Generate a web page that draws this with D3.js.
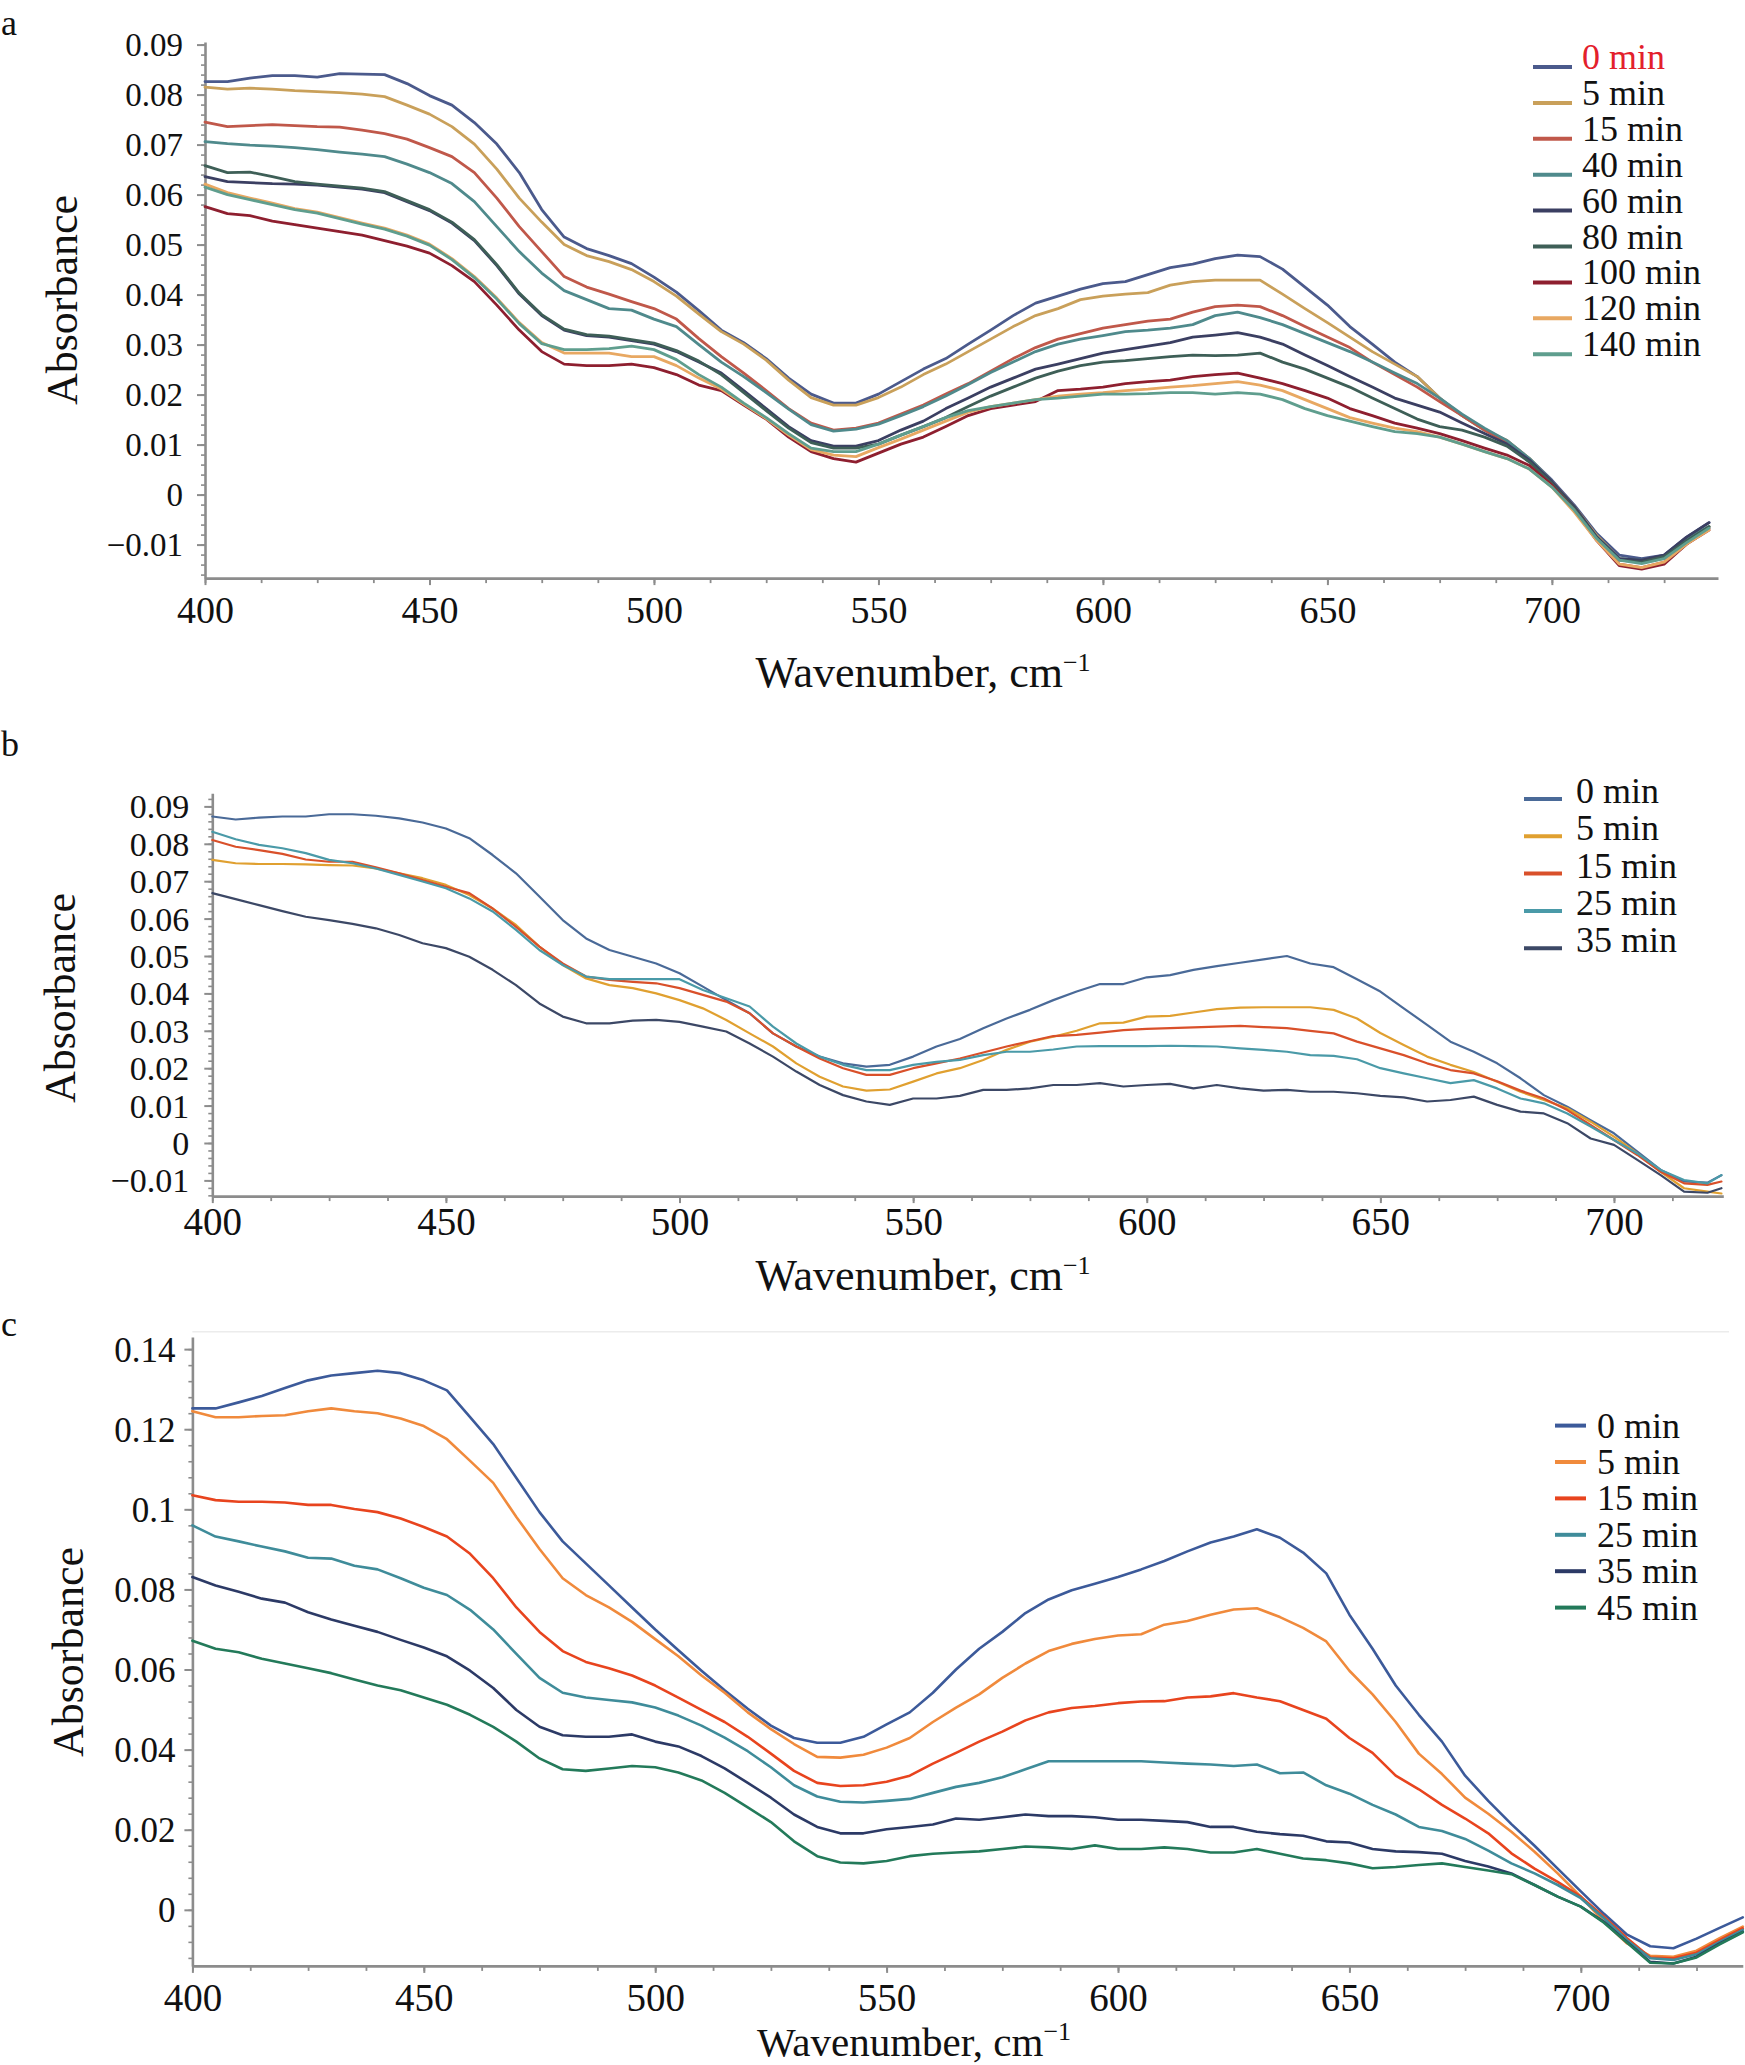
<!DOCTYPE html>
<html>
<head>
<meta charset="utf-8">
<script src="https://cdn.jsdelivr.net/npm/d3@7"></script>
<style>
  html, body { margin: 0; padding: 0; background: #ffffff; }
  svg { display: block; }
  text { font-family: "Liberation Serif", "Times New Roman", serif; fill: #111; }
</style>
</head>
<body>
<svg id="chart" width="1745" height="2065"></svg>
<script>
// ---------------- DATA ----------------
// Panel a
const waveA = [400,405,410,415,420,425,430,435,440,445,450,455,460,465,470,475,480,485,490,495,500,505,510,515,520,525,530,535,540,545,550,555,560,565,570,575,580,585,590,595,600,605,610,615,620,625,630,635,640,645,650,655,660,665,670,675,680,685,690,695,700,705,710,715,720,725,730,735];
const namesA = ["0 min","5 min","15 min","40 min","60 min","80 min","100 min","120 min","140 min"];
const colorsA = ["#4b5a8c","#c9a05a","#c0584a","#4f8a8c","#3b3f62","#3e5f57","#8e1f2f","#e8a862","#5f9e8e"];
const a0 = [.0826,.0826,.0833,.0838,.0838,.0835,.0842,.0841,.0840,.0822,
  .0798,.0779,.0744,.0701,.0644,.0570,.0515,.0492,.0478,.0462,
  .0435,.0405,.0368,.0329,.0304,.0272,.0233,.0201,.0183,.0183,
  .0201,.0226,.0251,.0272,.0301,.0329,.0358,.0383,.0397,.0411,
  .0422,.0426,.0440,.0454,.0461,.0472,.0479,.0476,.0451,.0415,
  .0379,.0336,.0301,.0265,.0236,.0193,.0158,.0129,.0108,.0072,
  .0029,-.0021,-.0078,-.0121,-.0128,-.0121,-.0085,-.0056];
const a5 = [.0815,.0811,.0813,.0811,.0808,.0806,.0804,.0801,.0796,.0779,
  .0761,.0736,.0701,.0651,.0593,.0545,.0500,.0478,.0466,.0450,
  .0426,.0397,.0361,.0326,.0301,.0269,.0229,.0194,.0179,.0179,
  .0194,.0215,.0240,.0261,.0286,.0311,.0336,.0358,.0372,.0390,
  .0397,.0401,.0404,.0419,.0426,.0429,.0429,.0429,.0401,.0372,
  .0344,.0315,.0286,.0261,.0236,.0193,.0158,.0129,.0108,.0072,
  .0026,-.0024,-.0082,-.0128,-.0135,-.0128,-.0092,-.0064];
const a15 = [.0745,.0736,.0738,.0740,.0738,.0736,.0735,.0729,.0722,.0711,
  .0694,.0676,.0644,.0593,.0536,.0486,.0436,.0415,.0401,.0386,
  .0372,.0351,.0312,.0276,.0243,.0208,.0172,.0143,.0129,.0133,
  .0143,.0161,.0179,.0201,.0222,.0247,.0272,.0294,.0311,.0322,
  .0333,.0340,.0347,.0351,.0365,.0376,.0379,.0376,.0358,.0336,
  .0315,.0294,.0265,.0240,.0215,.0186,.0158,.0129,.0104,.0069,
  .0022,-.0031,-.0085,-.0139,-.0146,-.0135,-.0099,-.0067];
const a40 = [.0706,.0702,.0699,.0697,.0694,.0690,.0685,.0681,.0676,.0661,
  .0644,.0622,.0586,.0536,.0486,.0443,.0408,.0390,.0372,.0369,
  .0351,.0336,.0300,.0265,.0236,.0204,.0171,.0140,.0127,.0131,
  .0141,.0158,.0176,.0197,.0220,.0244,.0265,.0286,.0301,.0311,
  .0318,.0326,.0329,.0333,.0340,.0358,.0365,.0354,.0340,.0322,
  .0304,.0286,.0265,.0243,.0222,.0193,.0161,.0133,.0108,.0072,
  .0026,-.0028,-.0085,-.0128,-.0131,-.0124,-.0088,-.0064];
const a60 = [.0636,.0626,.0624,.0622,.0621,.0619,.0615,.0611,.0604,.0586,
  .0568,.0543,.0508,.0458,.0401,.0358,.0329,.0318,.0315,.0308,
  .0301,.0286,.0265,.0243,.0208,.0172,.0136,.0108,.0097,.0097,
  .0108,.0129,.0147,.0172,.0193,.0215,.0233,.0251,.0261,.0272,
  .0283,.0290,.0297,.0304,.0315,.0319,.0324,.0315,.0301,.0279,
  .0258,.0236,.0215,.0193,.0179,.0165,.0143,.0122,.0101,.0069,
  .0026,-.0024,-.0085,-.0128,-.0131,-.0121,-.0085,-.0056];
const a80 = [.0658,.0644,.0645,.0636,.0626,.0621,.0617,.0613,.0606,.0588,
  .0570,.0545,.0510,.0460,.0403,.0360,.0331,.0320,.0317,.0310,
  .0303,.0288,.0267,.0240,.0204,.0168,.0133,.0104,.0093,.0093,
  .0101,.0119,.0136,.0154,.0176,.0197,.0215,.0233,.0247,.0258,
  .0265,.0268,.0272,.0276,.0279,.0278,.0279,.0283,.0265,.0251,
  .0233,.0215,.0193,.0172,.0151,.0136,.0129,.0115,.0097,.0065,
  .0022,-.0028,-.0088,-.0131,-.0135,-.0124,-.0092,-.0064];
const a100 = [.0576,.0562,.0558,.0547,.0540,.0533,.0526,.0519,.0508,.0497,
  .0483,.0458,.0426,.0379,.0329,.0286,.0261,.0258,.0258,.0261,
  .0254,.0240,.0219,.0208,.0179,.0151,.0115,.0086,.0072,.0065,
  .0083,.0101,.0115,.0136,.0158,.0172,.0179,.0186,.0208,.0211,
  .0215,.0222,.0226,.0229,.0236,.0240,.0243,.0233,.0222,.0208,
  .0193,.0172,.0158,.0143,.0133,.0122,.0108,.0093,.0079,.0058,
  .0019,-.0031,-.0092,-.0142,-.0149,-.0139,-.0099,-.0071];
const a120 = [.0621,.0604,.0593,.0583,.0572,.0565,.0554,.0543,.0533,.0519,
  .0501,.0472,.0436,.0393,.0344,.0304,.0283,.0283,.0283,.0276,
  .0276,.0258,.0233,.0211,.0181,.0152,.0119,.0090,.0079,.0076,
  .0094,.0111,.0129,.0147,.0165,.0176,.0183,.0190,.0197,.0201,
  .0204,.0208,.0211,.0215,.0218,.0222,.0226,.0219,.0208,.0190,
  .0172,.0154,.0143,.0133,.0126,.0115,.0101,.0086,.0072,.0051,
  .0015,-.0035,-.0092,-.0139,-.0146,-.0135,-.0099,-.0071];
const a140 = [.0615,.0600,.0590,.0580,.0570,.0563,.0552,.0541,.0531,.0517,
  .0499,.0470,.0434,.0391,.0342,.0302,.0290,.0290,.0292,.0297,
  .0290,.0270,.0240,.0215,.0183,.0154,.0122,.0093,.0086,.0086,
  .0101,.0119,.0136,.0154,.0168,.0176,.0183,.0190,.0193,.0197,
  .0201,.0201,.0202,.0204,.0204,.0201,.0204,.0201,.0190,.0172,
  .0158,.0147,.0136,.0126,.0122,.0115,.0101,.0086,.0072,.0051,
  .0015,-.0031,-.0088,-.0131,-.0138,-.0128,-.0096,-.0067];
const yTicksA = [-0.01,0,0.01,0.02,0.03,0.04,0.05,0.06,0.07,0.08,0.09];
const xTicksA = [400,450,500,550,600,650,700];

// Panel b
const waveB = [400,405,410,415,420,425,430,435,440,445,450,455,460,465,470,475,480,485,490,495,500,505,510,515,520,525,530,535,540,545,550,555,560,565,570,575,580,585,590,595,600,605,610,615,620,625,630,635,640,645,650,655,660,665,670,675,680,685,690,695,700,705,710,715,720,723];
const namesB = ["0 min","5 min","15 min","25 min","35 min"];
const colorsB = ["#4a6a98","#e0a030","#d9502a","#4a9aa8","#3c4866"];
const b0 = [.0873,.0865,.0870,.0873,.0873,.0879,.0879,.0875,.0868,.0857,
  .0841,.0815,.0770,.0721,.0659,.0596,.0547,.0516,.0498,.0480,
  .0454,.0418,.0382,.0347,.0293,.0258,.0231,.0213,.0204,.0209,
  .0231,.0258,.0278,.0307,.0333,.0356,.0382,.0405,.0425,.0425,
  .0443,.0449,.0463,.0473,.0482,.0491,.0500,.0480,.0470,.0438,
  .0405,.0360,.0316,.0271,.0244,.0213,.0173,.0128,.0097,.0061,
  .0026,-.0023,-.0072,-.0103,-.0106,-.0086];
const b5 = [.0757,.0748,.0746,.0746,.0745,.0743,.0742,.0734,.0721,.0708,
  .0690,.0663,.0627,.0583,.0525,.0476,.0440,.0422,.0414,.0400,
  .0382,.0360,.0329,.0293,.0258,.0213,.0177,.0151,.0140,.0143,
  .0164,.0186,.0200,.0222,.0249,.0271,.0284,.0300,.0320,.0322,
  .0338,.0340,.0349,.0358,.0362,.0363,.0363,.0363,.0356,.0333,
  .0294,.0262,.0231,.0209,.0190,.0164,.0137,.0115,.0093,.0057,
  .0017,-.0028,-.0077,-.0121,-.0130,-.0135];
const b15 = [.0810,.0792,.0783,.0773,.0758,.0752,.0752,.0737,.0721,.0703,
  .0685,.0668,.0627,.0578,.0525,.0480,.0445,.0436,.0431,.0427,
  .0414,.0396,.0378,.0347,.0293,.0258,.0226,.0200,.0182,.0182,
  .0200,.0213,.0226,.0242,.0258,.0272,.0286,.0289,.0295,.0302,
  .0305,.0307,.0309,.0311,.0313,.0310,.0307,.0300,.0293,.0271,
  .0253,.0235,.0213,.0195,.0186,.0165,.0140,.0119,.0088,.0048,
  .0008,-.0032,-.0077,-.0108,-.0112,-.0103];
const b25 = [.0832,.0812,.0797,.0788,.0775,.0757,.0748,.0734,.0717,.0699,
  .0681,.0654,.0619,.0570,.0516,.0476,.0445,.0438,.0438,.0438,
  .0438,.0409,.0387,.0365,.0311,.0266,.0231,.0209,.0195,.0195,
  .0209,.0217,.0222,.0235,.0244,.0244,.0250,.0258,.0259,.0259,
  .0259,.0260,.0259,.0258,.0253,.0249,.0244,.0235,.0233,.0224,
  .0200,.0186,.0173,.0160,.0168,.0146,.0119,.0106,.0079,.0044,
  .0008,-.0028,-.0072,-.0099,-.0108,-.0086];
const b35 = [.0668,.0652,.0636,.0620,.0605,.0596,.0586,.0574,.0556,.0534,
  .0521,.0498,.0463,.0422,.0373,.0338,.0320,.0320,.0327,.0329,
  .0324,.0311,.0298,.0266,.0231,.0191,.0155,.0128,.0111,.0102,
  .0119,.0119,.0126,.0142,.0142,.0146,.0155,.0155,.0160,.0151,
  .0155,.0158,.0146,.0155,.0146,.0140,.0142,.0137,.0137,.0133,
  .0126,.0122,.0111,.0115,.0124,.0102,.0084,.0079,.0053,.0012,
  -.0005,-.0045,-.0086,-.0130,-.0133,-.0121];
const yTicksB = [-0.01,0,0.01,0.02,0.03,0.04,0.05,0.06,0.07,0.08,0.09];
const xTicksB = [400,450,500,550,600,650,700];

// Panel c
const waveC = [400,405,410,415,420,425,430,435,440,445,450,455,460,465,470,475,480,485,490,495,500,505,510,515,520,525,530,535,540,545,550,555,560,565,570,575,580,585,590,595,600,605,610,615,620,625,630,635,640,645,650,655,660,665,670,675,680,685,690,695,700,705,710,715,720,725,730,735];
const namesC = ["0 min","5 min","15 min","25 min","35 min","45 min"];
const colorsC = ["#3c5a9a","#f08a3c","#e8441e","#3f8c9a","#2c3a66","#237a5a"];
const c0 = [.1252,.1252,.1267,.1283,.1303,.1322,.1334,.1340,.1346,.1340,
  .1322,.1297,.1230,.1163,.1078,.0993,.0920,.0865,.0810,.0755,
  .0700,.0648,.0597,.0548,.0502,.0460,.0429,.0417,.0417,.0432,
  .0463,.0493,.0542,.0600,.0652,.0694,.0741,.0775,.0798,.0814,
  .0831,.0850,.0871,.0895,.0917,.0932,.0950,.0929,.0892,.0840,
  .0737,.0652,.0560,.0487,.0420,.0335,.0272,.0214,.0160,.0103,
  .0046,-.0010,-.0062,-.0091,-.0096,-.0072,-.0045,-.0019];
const c5 = [.1245,.1230,.1230,.1233,.1235,.1245,.1252,.1245,.1240,.1227,
  .1208,.1175,.1121,.1066,.0981,.0901,.0828,.0786,.0755,.0719,
  .0676,.0633,.0585,.0542,.0493,.0451,.0414,.0382,.0380,.0387,
  .0405,.0429,.0469,.0505,.0538,.0579,.0615,.0646,.0664,.0676,
  .0685,.0688,.0712,.0721,.0737,.0750,.0753,.0731,.0704,.0670,
  .0597,.0538,.0469,.0390,.0339,.0280,.0240,.0195,.0145,.0091,
  .0033,-.0030,-.0084,-.0115,-.0117,-.0102,-.0071,-.0042];
const c15 = [.1035,.1023,.1019,.1019,.1017,.1011,.1011,.1001,.0993,.0977,
  .0956,.0932,.0889,.0828,.0755,.0694,.0646,.0619,.0603,.0585,
  .0560,.0530,.0499,.0469,.0432,.0390,.0347,.0317,.0309,.0311,
  .0320,.0335,.0365,.0392,.0420,.0445,.0473,.0493,.0504,.0509,
  .0516,.0520,.0521,.0530,.0533,.0541,.0530,.0521,.0499,.0477,
  .0429,.0392,.0335,.0301,.0262,.0228,.0191,.0141,.0103,.0070,
  .0033,-.0017,-.0071,-.0119,-.0121,-.0107,-.0076,-.0046];
const c25 = [.0960,.0932,.0920,.0907,.0895,.0879,.0877,.0859,.0850,.0828,
  .0804,.0786,.0749,.0700,.0639,.0579,.0542,.0530,.0524,.0518,
  .0505,.0485,.0460,.0430,.0396,.0356,.0311,.0283,.0270,.0268,
  .0272,.0277,.0292,.0307,.0317,.0331,.0351,.0371,.0371,.0371,
  .0371,.0371,.0368,.0365,.0363,.0359,.0363,.0341,.0343,.0311,
  .0290,.0262,.0238,.0207,.0197,.0177,.0148,.0116,.0091,.0062,
  .0029,-.0021,-.0076,-.0121,-.0125,-.0111,-.0080,-.0050];
const c35 = [.0831,.0810,.0794,.0777,.0767,.0743,.0725,.0709,.0694,.0674,
  .0655,.0633,.0597,.0554,.0499,.0457,.0436,.0432,.0432,.0438,
  .0420,.0408,.0384,.0353,.0317,.0280,.0238,.0207,.0191,.0191,
  .0201,.0207,.0213,.0228,.0225,.0231,.0238,.0234,.0234,.0231,
  .0225,.0225,.0222,.0219,.0207,.0207,.0195,.0189,.0185,.0171,
  .0168,.0152,.0146,.0144,.0140,.0122,.0108,.0091,.0062,.0033,
  .0008,-.0030,-.0080,-.0130,-.0134,-.0117,-.0084,-.0055];
const c45 = [.0672,.0652,.0643,.0627,.0615,.0603,.0591,.0575,.0560,.0548,
  .0530,.0512,.0487,.0457,.0420,.0378,.0351,.0347,.0353,.0359,
  .0356,.0343,.0323,.0292,.0256,.0219,.0171,.0134,.0118,.0116,
  .0122,.0134,.0140,.0143,.0146,.0152,.0158,.0156,.0152,.0161,
  .0152,.0152,.0156,.0152,.0143,.0143,.0152,.0140,.0128,.0124,
  .0116,.0104,.0107,.0112,.0116,.0107,.0098,.0089,.0062,.0033,
  .0008,-.0032,-.0082,-.0132,-.0134,-.0119,-.0086,-.0056];
const yTicksC = [0,0.02,0.04,0.06,0.08,0.1,0.12,0.14];
const xTicksC = [400,450,500,550,600,650,700];

// ---------------- DRAWING ----------------
const svg = d3.select("#chart");
const AXIS = "#8c8c8c";

function fmtTick(v) {
  const s = String(Math.round(v * 1000) / 1000);
  return s.replace("-", "\u2212");
}

function drawPanel(cfg) {
  const g = svg.append("g");
  const x = d3.scaleLinear().domain(cfg.xDomain).range(cfg.xRange);
  const y = d3.scaleLinear().domain(cfg.yDomain).range(cfg.yRange);
  const x0 = cfg.xRange[0], yb = cfg.yRange[0];

  if (cfg.topLine) {
    g.append("line").attr("x1", x0).attr("x2", cfg.topLine.x2)
      .attr("y1", cfg.topLine.y).attr("y2", cfg.topLine.y)
      .attr("stroke", "#ececec").attr("stroke-width", 1.5);
  }

  // minor y ticks
  const yMinorVals = [];
  for (let k = Math.ceil(cfg.yDomain[0] / cfg.yMinorStep - 1e-6); k * cfg.yMinorStep <= cfg.yDomain[1] + 1e-9; k++) {
    yMinorVals.push(k * cfg.yMinorStep);
  }
  g.append("g").attr("transform", `translate(${x0},0)`)
    .call(d3.axisLeft(y).tickValues(yMinorVals).tickSize(4).tickFormat(""))
    .call(s => s.select(".domain").remove())
    .call(s => s.selectAll("line").attr("stroke", AXIS).attr("stroke-width", 1.6));

  // major y axis
  const ya = g.append("g").attr("transform", `translate(${x0},0)`)
    .call(d3.axisLeft(y).tickValues(cfg.yTicks).tickSize(8).tickSizeOuter(0).tickFormat(fmtTick));
  ya.select(".domain").attr("stroke", AXIS).attr("stroke-width", 2.6);
  ya.selectAll(".tick line").attr("stroke", AXIS).attr("stroke-width", 2);
  ya.selectAll(".tick text").attr("x", -cfg.yLabelGap).attr("dy", "0.34em")
    .style("font-size", cfg.yTickFont + "px").style("font-family", '"Liberation Serif", serif').attr("fill", "#111");

  // minor x ticks
  const xMinorVals = [];
  for (let v = cfg.xDomain[0]; v <= cfg.xDomain[1] + 1e-9; v += 12.5) xMinorVals.push(v);
  g.append("g").attr("transform", `translate(0,${yb})`)
    .call(d3.axisBottom(x).tickValues(xMinorVals).tickSize(5).tickFormat(""))
    .call(s => s.select(".domain").remove())
    .call(s => s.selectAll("line").attr("stroke", AXIS).attr("stroke-width", 1.8));

  // major x axis
  const xa = g.append("g").attr("transform", `translate(0,${yb})`)
    .call(d3.axisBottom(x).tickValues(cfg.xTicks).tickSize(7).tickSizeOuter(0).tickFormat(d3.format("d")));
  xa.select(".domain").attr("stroke", AXIS).attr("stroke-width", 2.6);
  xa.selectAll(".tick line").attr("stroke", AXIS).attr("stroke-width", 2);
  xa.selectAll(".tick text").attr("y", cfg.xLabelBase).attr("dy", 0)
    .style("font-size", cfg.xTickFont + "px").style("font-family", '"Liberation Serif", serif').attr("fill", "#111");

  // series lines
  const line = d3.line().x((d, i) => x(cfg.wave[i])).y(d => y(d));
  cfg.series.forEach((s, i) => {
    g.append("path").datum(s).attr("fill", "none")
      .attr("stroke", cfg.colors[i]).attr("stroke-width", cfg.lineWidth)
      .attr("stroke-linejoin", "round").attr("stroke-linecap", "round")
      .attr("d", line);
  });

  // legend
  const L = cfg.legend;
  cfg.names.forEach((n, i) => {
    const by = L.y0 + i * L.dy;
    g.append("line").attr("x1", L.x1).attr("x2", L.x2)
      .attr("y1", by + L.lineOff).attr("y2", by + L.lineOff)
      .attr("stroke", cfg.colors[i]).attr("stroke-width", 4);
    g.append("text").attr("x", L.tx).attr("y", by)
      .style("font-size", L.font + "px")
      .style("fill", (cfg.redFirst && i === 0) ? "#e3202b" : "#111")
      .text(n);
  });

  // axis titles
  g.append("text").attr("transform", `translate(${cfg.yTitle.x},${cfg.yTitle.y}) rotate(-90)`)
    .attr("text-anchor", "middle").style("font-size", "44px").text("Absorbance");
  const t = g.append("text").attr("x", cfg.xTitle.x).attr("y", cfg.xTitle.y)
    .attr("text-anchor", "middle").style("font-size", cfg.xTitle.font + "px");
  t.append("tspan").text("Wavenumber, cm");
  t.append("tspan").attr("dy", -16).style("font-size", "26px").text("\u22121");

  // panel letter
  g.append("text").attr("x", 1).attr("y", cfg.letter.y).style("font-size", "36px").text(cfg.letter.t);
}

drawPanel({
  wave: waveA, series: [a0,a5,a15,a40,a60,a80,a100,a120,a140], names: namesA, colors: colorsA,
  xDomain: [400, 737], xRange: [205, 1718],
  yDomain: [-0.0167, 0.0905], yRange: [578.1, 42.1],
  yTicks: yTicksA, yMinorStep: 0.002, xTicks: xTicksA,
  yLabelGap: 22, yTickFont: 33, xTickFont: 38, xLabelBase: 45, lineWidth: 2.8,
  legend: { x1: 1533, x2: 1572, tx: 1582, y0: 69, dy: 35.9, lineOff: -2, font: 36 },
  redFirst: true,
  yTitle: { x: 77, y: 300 }, xTitle: { x: 923, y: 687, font: 44 },
  letter: { t: "a", y: 35 }
});

drawPanel({
  wave: waveB, series: [b0,b5,b15,b25,b35], names: namesB, colors: colorsB,
  xDomain: [400, 723.4], xRange: [212.3, 1723.3],
  yDomain: [-0.0142, 0.0935], yRange: [1196.1, 793.3],
  yTicks: yTicksB, yMinorStep: 0.002, xTicks: xTicksB,
  yLabelGap: 23, yTickFont: 34, xTickFont: 39, xLabelBase: 39, lineWidth: 2.2,
  legend: { x1: 1524, x2: 1562, tx: 1576, y0: 803, dy: 37.3, lineOff: -4, font: 36 },
  redFirst: false,
  yTitle: { x: 75, y: 998 }, xTitle: { x: 923, y: 1290, font: 44 },
  letter: { t: "b", y: 756 }
});

drawPanel({
  wave: waveC, series: [c0,c5,c15,c25,c35,c45], names: namesC, colors: colorsC,
  xDomain: [400, 735], xRange: [192.4, 1742.8],
  yDomain: [-0.014, 0.143], yRange: [1965.9, 1337.1],
  yTicks: yTicksC, yMinorStep: 0.004, xTicks: xTicksC,
  yLabelGap: 17, yTickFont: 35, xTickFont: 39, xLabelBase: 45, lineWidth: 2.6,
  legend: { x1: 1555, x2: 1586, tx: 1597, y0: 1437.6, dy: 36.4, lineOff: -12, font: 36 },
  redFirst: false,
  topLine: { y: 1331.7, x2: 1729 },
  yTitle: { x: 83, y: 1652 }, xTitle: { x: 914, y: 2056, font: 41 },
  letter: { t: "c", y: 1336 }
});
</script>
</body>
</html>
